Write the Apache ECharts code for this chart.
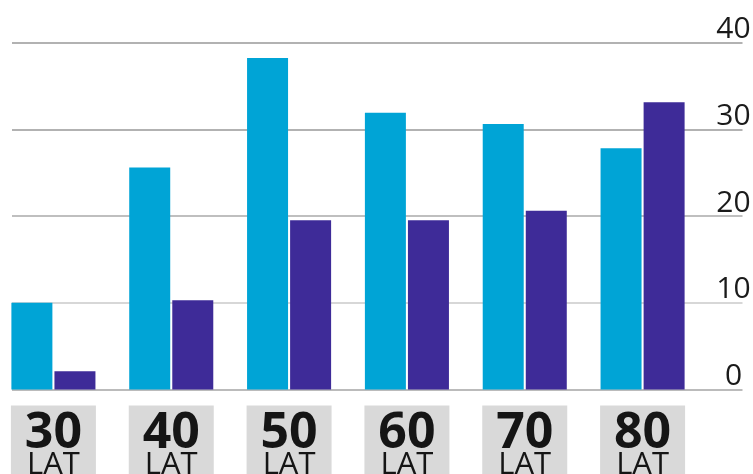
<!DOCTYPE html>
<html>
<head>
<meta charset="utf-8">
<script src="https://cdn.jsdelivr.net/npm/echarts@6/dist/echarts.min.js"></script>
<style>
html,body{margin:0;padding:0;background:#fff;}
#c{width:753px;height:474px;}
</style>
</head>
<body>
<div id="c"></div>
<script>
const categories = ['30', '40', '50', '60', '70', '80'];
const unitLabel = 'LAT';
const seriesA = [10.0, 25.6, 38.2, 31.9, 30.6, 27.8];
const seriesB = [2.1, 10.3, 19.5, 19.5, 20.6, 33.1];
const yMin = 0, yMax = 40, yStep = 10;

const chart = echarts.init(document.getElementById('c'), null, {renderer: 'canvas'});
const FONT = '"Open Sans", "Noto Sans", sans-serif';
chart.setOption({
  animation: false,
  backgroundColor: '#ffffff',
  grid: [
    {left: 12, right: 10.5, top: 42.5, bottom: 84.5, containLabel: false, outerBoundsMode: 'none'},
    {left: -5.5, right: 51.5, top: 42.5, bottom: 84.5, containLabel: false, outerBoundsMode: 'none'}
  ],
  xAxis: [
    {gridIndex: 0, type: 'value', min: 0, max: 1, show: false},
    {
      gridIndex: 1, type: 'category', data: categories,
      axisLine: {show: false}, axisTick: {show: false}, splitLine: {show: false},
      axisLabel: {
        interval: 0, margin: 16, verticalAlign: 'top',
        formatter: v => '{a|' + v + '}\n{b|' + unitLabel + '}',
        backgroundColor: '#d9d9d9', width: 85, align: 'center',
        padding: [8, 0, 10, 0],
        rich: {
          a: {fontFamily: FONT, fontSize: 50, fontWeight: 'bold', color: '#151515', lineHeight: 40, align: 'center'},
          b: {fontFamily: FONT, fontSize: 31, fontWeight: 'normal', color: '#151515', lineHeight: 24, align: 'center'}
        }
      }
    }
  ],
  yAxis: [
    {
      gridIndex: 0, type: 'value', min: yMin, max: yMax, interval: yStep, position: 'right',
      axisLine: {show: false}, axisTick: {show: false},
      splitLine: {show: true, lineStyle: {width: 1.5, color: ['#a4a4a4', '#cacaca', '#aaaaaa', '#999999', '#999999']}},
      axisLabel: {
        margin: -9, align: 'center', verticalAlign: 'bottom',
        fontFamily: FONT, fontSize: 30, lineHeight: 26, color: '#1a1a1a'
      }
    },
    {gridIndex: 1, type: 'value', min: yMin, max: yMax, interval: yStep, show: false}
  ],
  series: [
    {type: 'bar', xAxisIndex: 1, yAxisIndex: 1, data: seriesA, barWidth: 41, barGap: '5%',
     itemStyle: {color: '#00a4d6'}, z: 3},
    {type: 'bar', xAxisIndex: 1, yAxisIndex: 1, data: seriesB, barWidth: 41, barGap: '5%',
     itemStyle: {color: '#3e2b98'}, z: 3}
  ]
});
</script>
</body>
</html>
